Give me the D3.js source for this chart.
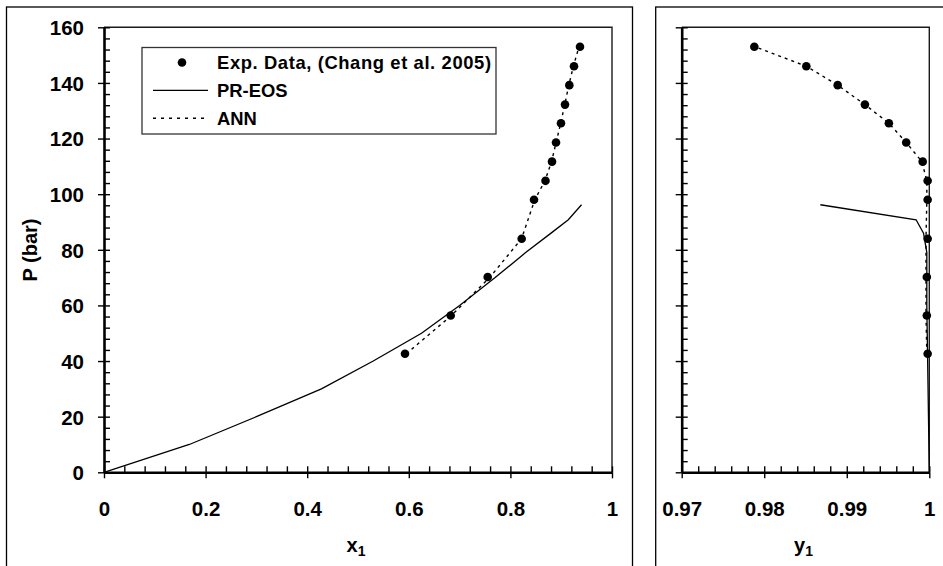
<!DOCTYPE html>
<html>
<head>
<meta charset="utf-8">
<script src="https://cdn.jsdelivr.net/npm/d3@7"></script>
<style>
  html, body { margin: 0; padding: 0; background: #fff; }
  svg { display: block; }
  text { font-family: "Liberation Sans", Arial, sans-serif; font-weight: bold; fill: #000; }
</style>
</head>
<body>
<svg id="chart" width="943" height="566"></svg>
<script>
// ---------- data ----------
const pressureExp = [42.6, 56.4, 70.2, 84.0, 98.0, 104.8, 111.7, 118.6, 125.5, 132.2, 139.2, 146.0, 153.0];
const x1Exp = [0.5925, 0.6825, 0.7553, 0.8222, 0.8465, 0.8691, 0.8819, 0.8898, 0.8996, 0.9075, 0.9160, 0.9252, 0.9370];
const y1Exp = [0.9998, 0.9997, 0.9997, 0.9998, 0.9998, 0.9998, 0.9992, 0.9972, 0.9951, 0.9922, 0.9889, 0.9851, 0.9788];

const x1Ann = [0.5950, 0.6840, 0.7600, 0.8220, 0.8480, 0.8680, 0.8810, 0.8900, 0.8990, 0.9070, 0.9150, 0.9240, 0.9350];
const y1Ann = [0.9997, 0.9996, 0.9996, 0.9996, 0.9997, 0.9997, 0.9991, 0.9972, 0.9951, 0.9922, 0.9889, 0.9851, 0.9789];

const pressurePR = [0, 10, 20, 30, 40, 50, 60, 70, 79, 86, 90.8, 96.2];
const x1PR = [0, 0.168, 0.300, 0.428, 0.530, 0.625, 0.700, 0.770, 0.830, 0.880, 0.914, 0.940];
const y1PR = [1.0000, 0.99995, 0.9999, 0.99985, 0.9998, 0.99975, 0.9997, 0.9997, 0.9997, 0.9993, 0.9984, 0.9868];

const pTicks = [0, 20, 40, 60, 80, 100, 120, 140, 160];
const x1Ticks = [0, 0.2, 0.4, 0.6, 0.8, 1];
const x1TickLabels = ["0", "0.2", "0.4", "0.6", "0.8", "1"];
const y1Ticks = [0.97, 0.98, 0.99, 1.0];
const y1TickLabels = ["0.97", "0.98", "0.99", "1"];

const legendLabels = ["Exp. Data, (Chang et al. 2005)", "PR-EOS", "ANN"];

// ---------- layout ----------
const svg = d3.select("#chart");
const plotTop = 27.3, plotBottom = 472.3;
const yP = d3.scaleLinear().domain([0, 160]).range([plotBottom, plotTop]);
const xL = d3.scaleLinear().domain([0, 1]).range([104, 612]);
const xR = d3.scaleLinear().domain([0.97, 1]).range([681.7, 929.3]);

// outer frames
svg.append("rect").attr("x", 6.5).attr("y", 7).attr("width", 626).attr("height", 600)
  .attr("fill", "none").attr("stroke", "#000").attr("stroke-width", 1.3);
svg.append("rect").attr("x", 655.7).attr("y", 7).attr("width", 320).attr("height", 600)
  .attr("fill", "none").attr("stroke", "#000").attr("stroke-width", 1.3);

function minorTicks(lo, hi, step) {
  const out = [];
  const n = Math.round((hi - lo) / step);
  for (let i = 0; i <= n; i++) out.push(+(lo + i * step).toFixed(6));
  return out;
}

function drawPanel(xs, xTicks, xLabels, xMinorStep, showYLabels, xTitle) {
  const g = svg.append("g");
  const [x0, x1] = xs.range();
  // plot border (top & right)
  g.append("path")
    .attr("d", `M${x0},${plotTop}H${x1}V${plotBottom}`)
    .attr("fill", "none").attr("stroke", "#1a1a1a").attr("stroke-width", 1.4);

  const xMin = minorTicks(xs.domain()[0], xs.domain()[1], xMinorStep);
  const yMin = minorTicks(0, 160, 4);

  // x axis: outward major ticks + labels
  const gx = g.append("g").attr("transform", `translate(0,${plotBottom})`)
    .call(d3.axisBottom(xs).tickValues(xTicks).tickSizeInner(6).tickSizeOuter(0)
      .tickFormat((d, i) => xLabels[i]));
  gx.select(".domain").attr("stroke", "#000").attr("stroke-width", 2.6);
  gx.selectAll(".tick line").attr("stroke", "#000").attr("stroke-width", 1.4);
  gx.selectAll(".tick text").attr("y", 43.5).attr("dy", 0)
    .style("font-size", "20.5px").attr("font-family", null);
  // x axis inward ticks (major + minor)
  const gx2 = g.append("g").attr("transform", `translate(0,${plotBottom})`)
    .call(d3.axisBottom(xs).tickValues(xMin).tickSize(-6).tickFormat(""));
  gx2.select(".domain").remove();
  gx2.selectAll(".tick line").attr("stroke", "#000").attr("stroke-width", 1.4);

  // y axis
  const gy = g.append("g").attr("transform", `translate(${x0},0)`)
    .call(d3.axisLeft(yP).tickValues(pTicks).tickSizeInner(6).tickSizeOuter(0)
      .tickFormat(showYLabels ? d3.format("d") : ""));
  gy.select(".domain").attr("stroke", "#000").attr("stroke-width", 2.6);
  gy.selectAll(".tick line").attr("stroke", "#000").attr("stroke-width", 1.4);
  gy.selectAll(".tick text").attr("x", -20).attr("dy", "0.36em")
    .style("font-size", "20.5px").attr("font-family", null);
  const gy2 = g.append("g").attr("transform", `translate(${x0},0)`)
    .call(d3.axisLeft(yP).tickValues(yMin).tickSize(-6).tickFormat(""));
  gy2.select(".domain").remove();
  gy2.selectAll(".tick line").attr("stroke", "#000").attr("stroke-width", 1.4);

  // x title with subscript
  const t = g.append("text").attr("x", (x0 + x1) / 2 - 2).attr("y", 552)
    .attr("text-anchor", "middle").style("font-size", "20px");
  t.append("tspan").text(xTitle);
  t.append("tspan").text("1").style("font-size", "14px").attr("dy", 4);
  return g;
}

const gL = drawPanel(xL, x1Ticks, x1TickLabels, 0.04, true, "x");
const gR = drawPanel(xR, y1Ticks, y1TickLabels, 0.002, false, "y");

// y axis title
svg.append("text").attr("transform", "translate(37,250) rotate(-90)")
  .attr("text-anchor", "middle").style("font-size", "20px").text("P (bar)");

// ---------- series: left ----------
const lineL = d3.line().x(d => xL(d[0])).y(d => yP(d[1]));
svg.append("path").datum(d3.zip(x1PR, pressurePR)).attr("d", lineL)
  .attr("fill", "none").attr("stroke", "#000").attr("stroke-width", 1.3);
svg.append("path").datum(d3.zip(x1Ann, pressureExp)).attr("d", lineL)
  .attr("fill", "none").attr("stroke", "#000").attr("stroke-width", 1.4)
  .attr("stroke-dasharray", "3,4");
svg.append("g").selectAll("circle").data(d3.zip(x1Exp, pressureExp)).join("circle")
  .attr("cx", d => xL(d[0])).attr("cy", d => yP(d[1])).attr("r", 4.3).attr("fill", "#000");

// ---------- series: right ----------
const lineR = d3.line().x(d => xR(d[0])).y(d => yP(d[1]));
svg.append("path").datum(d3.zip(y1PR, pressurePR)).attr("d", lineR)
  .attr("fill", "none").attr("stroke", "#000").attr("stroke-width", 1.3);
svg.append("path").datum(d3.zip(y1Ann, pressureExp)).attr("d", lineR)
  .attr("fill", "none").attr("stroke", "#000").attr("stroke-width", 1.4)
  .attr("stroke-dasharray", "3,4");
svg.append("g").selectAll("circle").data(d3.zip(y1Exp, pressureExp)).join("circle")
  .attr("cx", d => xR(d[0])).attr("cy", d => yP(d[1])).attr("r", 4.3).attr("fill", "#000");

// ---------- legend ----------
const lg = svg.append("g");
lg.append("rect").attr("x", 142).attr("y", 47.5).attr("width", 354).attr("height", 86.5)
  .attr("fill", "#fff").attr("stroke", "#333").attr("stroke-width", 1.3);
const rowY = [62.5, 90.3, 118.3];
lg.append("circle").attr("cx", 182).attr("cy", rowY[0]).attr("r", 4.3).attr("fill", "#000");
lg.append("line").attr("x1", 153).attr("x2", 208).attr("y1", rowY[1]).attr("y2", rowY[1])
  .attr("stroke", "#000").attr("stroke-width", 1.3);
lg.append("line").attr("x1", 153).attr("x2", 208).attr("y1", rowY[2]).attr("y2", rowY[2])
  .attr("stroke", "#000").attr("stroke-width", 1.4).attr("stroke-dasharray", "3,5");
legendLabels.forEach((s, i) => {
  const tx = lg.append("text").attr("x", 217).attr("y", rowY[i]).attr("dy", "0.36em")
    .style("font-size", "18.4px").text(s);
  if (i === 0) tx.attr("textLength", 274).attr("lengthAdjust", "spacing");
});
</script>
</body>
</html>
